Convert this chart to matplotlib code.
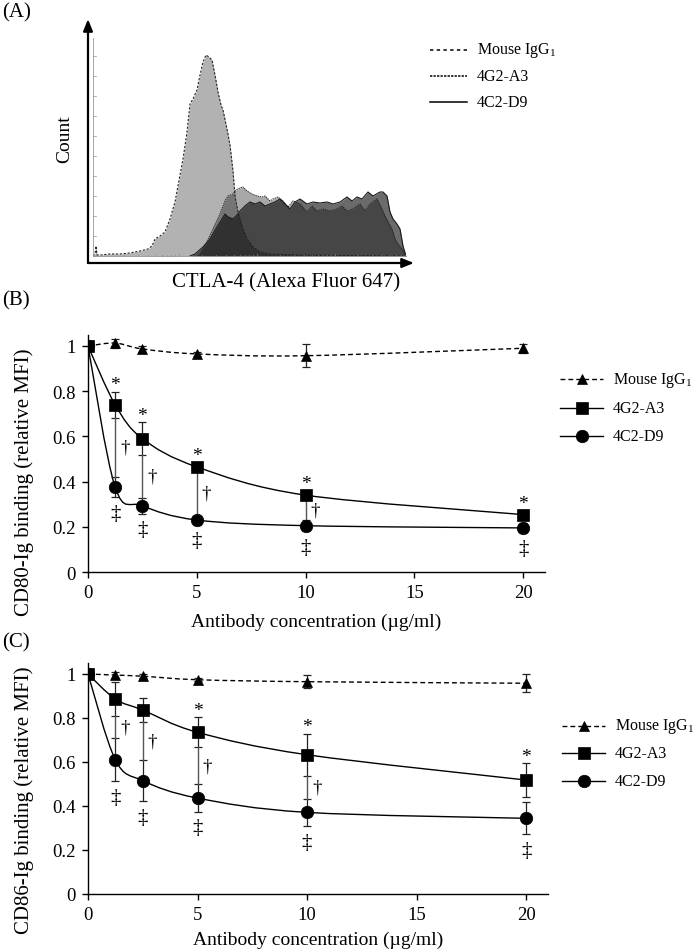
import numpy as np
import matplotlib
matplotlib.use('Agg')
import matplotlib.pyplot as plt
from matplotlib.path import Path
from matplotlib.patches import PathPatch
from matplotlib.lines import Line2D

plt.rcParams['font.family'] = ['Liberation Serif', 'DejaVu Serif']
plt.rcParams['mathtext.fontset'] = 'custom'
plt.rcParams['mathtext.rm'] = 'Liberation Serif'
plt.rcParams['mathtext.it'] = 'Liberation Serif:italic'

# ---------------- Panel A data (flow cytometry histograms) ----------------
igg_x = [0, 2, 3, 4, 7, 17, 27, 37, 42, 47, 55, 59, 62, 67, 72, 77, 82, 87, 90, 94,
         97, 100, 104, 107, 110, 113, 116, 119, 122, 125, 128, 130, 134, 137, 140, 142,
         145, 149, 154, 160, 167, 177, 207, 257, 312]
igg_y = [0, 2, 10, 1, 1, 2, 2, 3, 4, 5, 7, 10, 17, 20, 24, 37, 54, 81, 97, 124,
         152, 157, 166, 181, 194, 201, 199, 196, 181, 164, 151, 146, 127, 111, 85, 60,
         44, 30, 17, 9, 4, 2, 1, 0.5, 0]
a3_x = [105, 107, 114, 120, 127, 132, 135, 140, 143, 147, 150, 154, 159, 164, 169, 172,
        177, 180, 185, 190, 195, 200, 207, 214, 219, 224, 230, 237, 244, 249, 254, 260,
        267, 272, 277, 284, 289, 292, 295, 299, 302, 305, 309, 312, 313]
a3_y = [0, 2, 14, 27, 42, 55, 60, 62, 66, 68, 69, 65, 62, 60, 59, 60, 55, 57, 59, 55,
        49, 55, 52, 44, 50, 45, 47, 45, 47, 50, 45, 47, 52, 45, 52, 57, 47, 40, 34, 27,
        17, 12, 7, 2, 0]
d9_x = [97, 102, 110, 117, 124, 129, 132, 135, 140, 145, 147, 152, 157, 162, 167, 172,
        177, 182, 187, 192, 197, 202, 207, 214, 220, 227, 234, 240, 247, 254, 259, 264,
        269, 275, 280, 287, 290, 294, 297, 300, 304, 307, 310, 313]
d9_y = [0, 2, 9, 17, 29, 37, 42, 39, 37, 42, 45, 50, 54, 52, 54, 50, 52, 54, 57, 52,
        47, 54, 57, 52, 54, 53, 54, 52, 54, 59, 55, 59, 57, 64, 60, 64, 64, 60, 44, 37,
        32, 27, 10, 0]

# ---------------- Panels B / C data ----------------
conc = [0, 1.25, 2.5, 5, 10, 20]
series_names = ['Mouse IgG$_\\mathregular{1}$', '4G2-A3', '4C2-D9']

b_igg = [1.0, 1.013, 0.987, 0.965, 0.957, 0.99]
b_igg_err = [0, 0.02, 0.012, 0.01, 0.05, 0.02]
b_a3 = [1.0, 0.74, 0.59, 0.465, 0.34, 0.254]
b_a3_err = [0, 0.058, 0.072, 0.02, 0.022, 0.02]
b_d9 = [1.0, 0.375, 0.293, 0.23, 0.205, 0.195]
b_d9_err = [0, 0.045, 0.035, 0.02, 0.025, 0.02]
b_star = [1.25, 2.5, 5, 10, 20]
b_dagger = [1.25, 2.5, 5, 10]
b_ddagger = [1.25, 2.5, 5, 10, 20]

c_igg = [1.0, 0.995, 0.99, 0.974, 0.965, 0.958]
c_igg_err = [0, 0.012, 0.01, 0.008, 0.03, 0.04]
c_a3 = [1.0, 0.886, 0.836, 0.735, 0.633, 0.518]
c_a3_err = [0, 0.076, 0.053, 0.068, 0.095, 0.076]
c_d9 = [1.0, 0.61, 0.515, 0.436, 0.371, 0.344]
c_d9_err = [0, 0.097, 0.093, 0.063, 0.063, 0.073]
c_star = [5, 10, 20]
c_dagger = [1.25, 2.5, 5, 10]
c_ddagger = [1.25, 2.5, 5, 10, 20]

W, H = 695, 953
fig = plt.figure(figsize=(W / 100, H / 100), dpi=100)


def fx(px):
    return px / W


def fy(py):
    return 1 - py / H


# ======================= Panel A =======================
axA = fig.add_axes([fx(93), fy(257), 313 / W, 220 / H])
axA.set_xlim(0, 313)
axA.set_ylim(0, 220)
axA.axis('off')

axA.fill_between(igg_x, igg_y, color='black', alpha=0.30, lw=0)
axA.fill_between(a3_x, a3_y, color='black', alpha=0.34, lw=0)
axA.fill_between(d9_x, d9_y, color='black', alpha=0.58, lw=0)
axA.plot(igg_x, igg_y, color='#222222', lw=0.8, ls=(0, (2, 1.5)))
axA.plot(a3_x, a3_y, color='#222222', lw=0.7, ls=(0, (1.5, 0.8)))
axA.plot(d9_x, d9_y, color='#1a1a1a', lw=0.8)

# inner cytometer frame (thin grey axis with ticks)
axA.plot([0, 0], [0, 218], color='#999999', lw=0.6, clip_on=False)
for yy in range(0, 219, 20):
    axA.plot([0, 2.5], [yy, yy], color='#999999', lw=0.5, clip_on=False)
axA.plot([0, 313], [0, 0], color='#999999', lw=0.6, clip_on=False)
for dec in range(4):
    for m in range(1, 10):
        xx = 8 + dec * 78 + 78 * np.log10(m)
        if xx < 313:
            axA.plot([xx, xx], [0, 2.5 if m == 1 else 1.5], color='#888888', lw=0.5,
                     clip_on=False)

# main arrows
arrow_kw = dict(arrowstyle='-|>,head_length=0.7,head_width=0.28', color='black', lw=1.6,
                shrinkA=0, shrinkB=0)
axA.annotate('', xy=(88, H - 20), xytext=(88, H - 264), xycoords='figure pixels',
             textcoords='figure pixels', arrowprops=arrow_kw)
axA.annotate('', xy=(414, H - 264), xytext=(88, H - 264), xycoords='figure pixels',
             textcoords='figure pixels', arrowprops=arrow_kw)

fig.text(fx(65), fy(139), 'Count', rotation=90, ha='center', va='center', fontsize=14)
fig.text(fx(286), fy(283), 'CTLA-4 (Alexa Fluor 647)', ha='center', va='center', fontsize=15)
fig.text(fx(2), fy(13), '(A)', ha='left', va='center', fontsize=15)

# legend A
legA_rows = [51, 77, 103]
legA_styles = [(0, (2.2, 2.2)), (0, (1.5, 0.8)), '-']
for yy, st, name in zip(legA_rows, legA_styles, series_names):
    fig.add_artist(Line2D([fx(430), fx(467)], [fy(yy), fy(yy)], color='black', lw=1.1,
                          ls=st, transform=fig.transFigure))
    fig.text(fx(477), fy(yy), name, ha='left', va='center', fontsize=11.5)


# ======================= Panels B / C =======================
def smooth_path(ax, x, y):
    pts = ax.transData.transform(np.column_stack([x, y]))
    n = len(pts)
    verts = [pts[0]]
    codes = [Path.MOVETO]
    for i in range(n - 1):
        p0 = pts[i - 1] if i > 0 else pts[i]
        p1 = pts[i]
        p2 = pts[i + 1]
        p3 = pts[i + 2] if i + 2 < n else pts[i + 1]
        c1 = p1 + (p2 - p0) / 6.0
        c2 = p2 - (p3 - p1) / 6.0
        verts += [c1, c2, p2]
        codes += [Path.CURVE4] * 3
    verts = ax.transData.inverted().transform(np.array(verts))
    return Path(verts, codes)


MS_TRI, MS_SQ, MS_CI = 7.5, 8.5, 9
DASH_IGG = (0, (3.5, 2.2))


def draw_panel(rect, igg, igg_e, a3, a3_e, d9, d9_e, stars, daggers, ddaggers,
               ylabel, ylab_pos, xlab_pos, plabel, plab_y, leg_x, leg_rows):
    ax = fig.add_axes(rect)
    ax.set_xlim(0, 21)
    ax.set_ylim(0, 1.05)
    for s in ['top', 'right']:
        ax.spines[s].set_visible(False)
    for s in ['left', 'bottom']:
        ax.spines[s].set_linewidth(1.0)
    ax.set_xticks([0, 5, 10, 15, 20])
    ax.set_yticks([0, 0.2, 0.4, 0.6, 0.8, 1.0])
    ax.set_yticklabels(['0', '0.2', '0.4', '0.6', '0.8', '1'])
    ax.tick_params(direction='out', length=4, width=1, labelsize=13.5, pad=5)

    # smooth curves
    ax.add_patch(PathPatch(smooth_path(ax, conc, igg), fill=False, ec='black', lw=1.0,
                           ls=DASH_IGG))
    ax.add_patch(PathPatch(smooth_path(ax, conc, a3), fill=False, ec='black', lw=1.0))
    ax.add_patch(PathPatch(smooth_path(ax, conc, d9), fill=False, ec='black', lw=1.0))

    ekw = dict(fmt='none', ecolor='#222222', elinewidth=0.9, capsize=3, capthick=0.9)
    ax.errorbar(conc, igg, yerr=igg_e, **ekw)
    ax.errorbar(conc, a3, yerr=a3_e, **ekw)
    ax.errorbar(conc, d9, yerr=d9_e, **ekw)

    ax.plot(conc, igg, ls='none', marker='^', ms=MS_TRI, color='black', mew=0.5, zorder=4)
    ax.plot(conc, d9, ls='none', marker='o', ms=MS_CI, color='black', mew=0.5, zorder=5)
    ax.plot(conc, a3, ls='none', marker='s', ms=MS_SQ, color='black', mew=0.5, zorder=6)

    a3_top = {c: v + e for c, v, e in zip(conc, a3, a3_e)}
    a3_bot = {c: v - e for c, v, e in zip(conc, a3, a3_e)}
    d9_top = {c: v + e for c, v, e in zip(conc, d9, d9_e)}
    d9_bot = {c: v - e for c, v, e in zip(conc, d9, d9_e)}

    for c in stars:
        ax.annotate('*', xy=(c, a3_top[c]), xytext=(0, 5), textcoords='offset points',
                    ha='center', va='center', fontsize=14)
    for c in daggers:
        ax.plot([c, c], [a3_bot[c], d9_top[c]], color='#555555', lw=1.0)
        ax.annotate('\u2020', xy=(c, (a3_bot[c] + d9_top[c]) / 2), xytext=(7, 0),
                    textcoords='offset points', ha='center', va='center', fontsize=13.5)
    for c in ddaggers:
        ax.annotate('\u2021', xy=(c, d9_bot[c]), xytext=(0, -11.5), textcoords='offset points',
                    ha='center', va='center', fontsize=15)

    fig.text(fx(ylab_pos[0]), fy(ylab_pos[1]), ylabel, rotation=90, ha='center',
             va='center', fontsize=15)
    fig.text(fx(xlab_pos[0]), fy(xlab_pos[1]), 'Antibody concentration (\u00b5g/ml)',
             ha='center', va='center', fontsize=14)
    fig.text(fx(2), fy(plab_y), plabel, ha='left', va='center', fontsize=15)

    # legend
    leg_specs = [('^', MS_TRI, DASH_IGG), ('s', MS_SQ, '-'), ('o', MS_CI, '-')]
    for yy, (mk, ms, st), name in zip(leg_rows, leg_specs, series_names):
        fig.add_artist(Line2D([fx(leg_x), fx(leg_x + 43)], [fy(yy), fy(yy)], color='black',
                              lw=1.0, ls=st, transform=fig.transFigure))
        fig.add_artist(Line2D([fx(leg_x + 21.5)], [fy(yy)], color='black', marker=mk, ms=ms,
                              mew=0.5, ls='none', transform=fig.transFigure))
        fig.text(fx(leg_x + 53), fy(yy), name, ha='left', va='center', fontsize=11.5)
    return ax


draw_panel([fx(88), fy(573), 457 / W, 237.3 / H], b_igg, b_igg_err, b_a3, b_a3_err,
           b_d9, b_d9_err, b_star, b_dagger, b_ddagger,
           'CD80-Ig binding (relative MFI)', (24, 482), (316, 622), '(B)', 301,
           560, [380, 409, 437])

draw_panel([fx(88), fy(895), 460 / W, 231 / H], c_igg, c_igg_err, c_a3, c_a3_err,
           c_d9, c_d9_err, c_star, c_dagger, c_ddagger,
           'CD86-Ig binding (relative MFI)', (24, 800), (318, 940), '(C)', 643,
           562, [727, 754, 782])

fig.savefig('out.png', dpi=100)
